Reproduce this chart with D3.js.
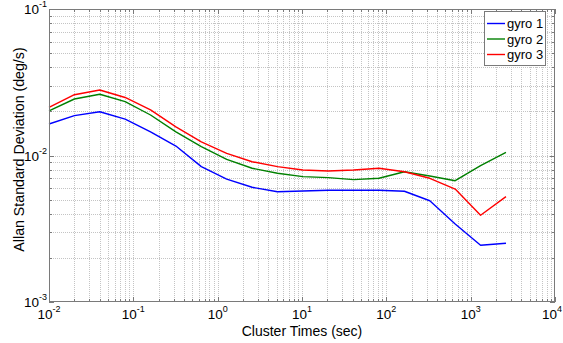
<!DOCTYPE html>
<html>
<head>
<meta charset="utf-8">
<script src="https://cdn.jsdelivr.net/npm/d3@7/dist/d3.min.js"></script>
<style>
  body { margin: 0; background: #fff; }
  svg { display: block; font-family: "Liberation Sans", Arial, sans-serif; }
</style>
</head>
<body>
<script>
const width = 563;
const height = 343;
const marginTop = 9;
const marginRight = 8;
const marginBottom = 41;
const marginLeft = 49;

// cluster times (sec)
const tau = [0.01, 0.02, 0.04, 0.08, 0.16, 0.32, 0.64, 1.28, 2.56, 5.12, 10.24,
  20.48, 40.96, 81.92, 163.84, 327.68, 655.36, 1310.72, 2621.44];

const gyro1 = [0.0164, 0.0187, 0.0199, 0.0177, 0.0145, 0.0116, 0.0084, 0.00689,
  0.00607, 0.00566, 0.00573, 0.00579, 0.00579, 0.00579, 0.0057, 0.00491,
  0.00341, 0.00244, 0.00252];
const gyro2 = [0.0202, 0.0243, 0.0262, 0.0233, 0.0189, 0.0145, 0.0115, 0.00942,
  0.00818, 0.00756, 0.00717, 0.00706, 0.00684, 0.00699, 0.00775, 0.00724,
  0.00673, 0.00852, 0.01051];
const gyro3 = [0.0213, 0.026, 0.028, 0.0249, 0.0205, 0.0157, 0.0124, 0.01035,
  0.00907, 0.00839, 0.00796, 0.00783, 0.00796, 0.00819, 0.00775, 0.00699,
  0.0059, 0.00391, 0.00524];

const seriesNames = ['gyro 1', 'gyro 2', 'gyro 3'];
const seriesColors = ['#0000ff', '#008000', '#ff0000'];
const xTickExp = [-2, -1, 0, 1, 2, 3, 4];
const yTickExp = [-3, -2, -1];

const series = [gyro1, gyro2, gyro3];

const x = d3.scaleLog([1e-2, 1e4], [marginLeft, width - marginRight]);
const y = d3.scaleLog([1e-3, 1e-1], [height - marginBottom, marginTop]);

const svg = d3.select('body').append('svg')
  .attr('width', width)
  .attr('height', height)
  .attr('viewBox', [0, 0, width, height]);

// minor and major values
const xMinor = [];
for (let e = -2; e < 4; e++) for (let k = 2; k <= 9; k++) xMinor.push(k * Math.pow(10, e));
const yMinor = [];
for (let e = -3; e < -1; e++) for (let k = 2; k <= 9; k++) yMinor.push(k * Math.pow(10, e));
const xMajor = xTickExp.map((e) => Math.pow(10, e));
const yMajor = yTickExp.map((e) => Math.pow(10, e));

const x0 = marginLeft, x1 = width - marginRight;
const y0 = height - marginBottom, y1 = marginTop;

// grid
const grid = svg.append('g')
  .attr('stroke', '#c4c4c4')
  .attr('stroke-width', 1)
  .attr('stroke-dasharray', '1,1')
  .attr('shape-rendering', 'crispEdges');
grid.selectAll('line.vx')
  .data(xMinor.concat(xMajor.slice(1, -1)))
  .join('line')
  .attr('x1', (d) => Math.round(x(d)) + 0.5)
  .attr('x2', (d) => Math.round(x(d)) + 0.5)
  .attr('y1', y1)
  .attr('y2', y0);
grid.selectAll('line.hy')
  .data(yMinor.concat(yMajor.slice(1, -1)))
  .join('line')
  .attr('y1', (d) => Math.round(y(d)) + 0.5)
  .attr('y2', (d) => Math.round(y(d)) + 0.5)
  .attr('x1', x0)
  .attr('x2', x1);

// ticks (inward, on all four sides)
const ticks = svg.append('g')
  .attr('stroke', '#7a7a7a')
  .attr('stroke-width', 1)
  .attr('shape-rendering', 'crispEdges');
const xt = xMinor.map((d) => ({ v: d, len: 3 })).concat(xMajor.map((d) => ({ v: d, len: 5 })));
const yt = yMinor.map((d) => ({ v: d, len: 3 })).concat(yMajor.map((d) => ({ v: d, len: 5 })));
xt.forEach((t) => {
  const px = Math.round(x(t.v)) + 0.5;
  ticks.append('line').attr('x1', px).attr('x2', px).attr('y1', y0).attr('y2', y0 - t.len);
  ticks.append('line').attr('x1', px).attr('x2', px).attr('y1', y1).attr('y2', y1 + t.len);
});
yt.forEach((t) => {
  const py = Math.round(y(t.v)) + 0.5;
  ticks.append('line').attr('y1', py).attr('y2', py).attr('x1', x0).attr('x2', x0 + t.len);
  ticks.append('line').attr('y1', py).attr('y2', py).attr('x1', x1).attr('x2', x1 - t.len);
});

// lines
const line = d3.line()
  .x((d) => x(d[0]))
  .y((d) => y(d[1]));
series.forEach((s, i) => {
  svg.append('path')
    .attr('fill', 'none')
    .attr('stroke', seriesColors[i])
    .attr('stroke-width', 1.4)
    .attr('stroke-linejoin', 'round')
    .attr('d', line(tau.map((t, j) => [t, s[j]])));
});

// box
svg.append('rect')
  .attr('x', x0 + 0.5)
  .attr('y', y1 + 0.5)
  .attr('width', x1 - x0 - 1)
  .attr('height', y0 - y1 - 1)
  .attr('fill', 'none')
  .attr('stroke', '#7a7a7a')
  .attr('shape-rendering', 'crispEdges');

// tick labels
const tl = svg.append('g').attr('font-size', 13.5).attr('fill', '#000');
xTickExp.forEach((e, i) => {
  const last = i === xTickExp.length - 1;
  // last label would run past the right edge, so pin it to the edge
  const t = tl.append('text')
    .attr('x', last ? width - 1 : x(Math.pow(10, e)))
    .attr('y', y0 + 16.5)
    .attr('text-anchor', last ? 'end' : 'middle');
  t.append('tspan').text('10');
  t.append('tspan').attr('dy', -7).attr('font-size', 9).text(e);
});
yTickExp.forEach((e) => {
  const t = tl.append('text')
    .attr('x', x0 - 2)
    .attr('y', y(Math.pow(10, e)) + 5)
    .attr('text-anchor', 'end');
  t.append('tspan').text('10');
  t.append('tspan').attr('dy', -7).attr('font-size', 9).text(e);
});

// axis labels
svg.append('text')
  .attr('x', (x0 + x1) / 2)
  .attr('y', height - 7)
  .attr('text-anchor', 'middle')
  .attr('font-size', 14)
  .text('Cluster Times (sec)');
svg.append('text')
  .attr('transform', `translate(24,${(y0 + y1) / 2 - 6}) rotate(-90)`)
  .attr('text-anchor', 'middle')
  .attr('font-size', 14.2)
  .text('Allan Standard Deviation (deg/s)');

// Handmade legend
const lg = svg.append('g');
lg.append('rect')
  .attr('x', 484.5)
  .attr('y', 11.5)
  .attr('width', 61)
  .attr('height', 54)
  .attr('fill', '#fff')
  .attr('stroke', '#7a7a7a')
  .attr('shape-rendering', 'crispEdges');
seriesNames.forEach((name, i) => {
  const cy = 23.5 + i * 15.5;
  lg.append('line')
    .attr('x1', 487).attr('x2', 505)
    .attr('y1', cy).attr('y2', cy)
    .attr('stroke', seriesColors[i])
    .attr('stroke-width', 1.4);
  lg.append('text')
    .attr('x', 507)
    .attr('y', cy + 4.5)
    .attr('font-size', 13)
    .text(name);
});
</script>
</body>
</html>
